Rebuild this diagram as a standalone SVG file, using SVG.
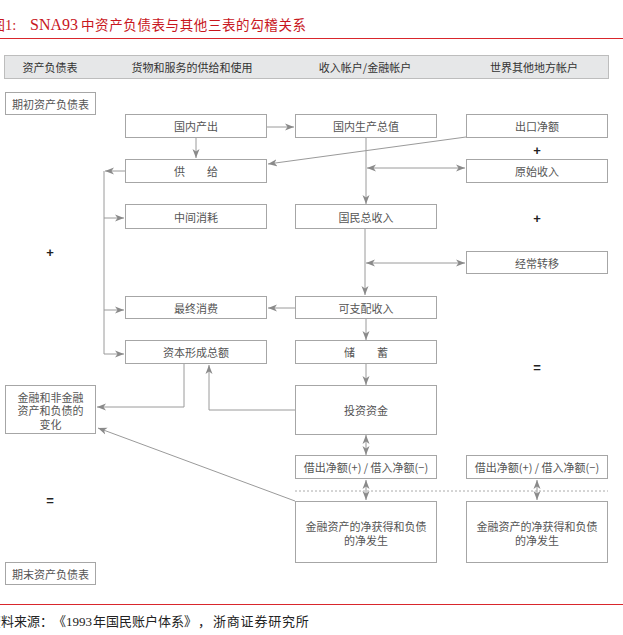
<svg xmlns="http://www.w3.org/2000/svg" width="623" height="635" viewBox="0 0 623 635">
<style>
.box{fill:#fff;stroke:#a6a6a6;stroke-width:1}
.t{font-family:"Noto Sans CJK SC","Liberation Sans",sans-serif;font-size:11px;fill:#555;text-anchor:middle;dominant-baseline:central}
.h{font-family:"Noto Sans CJK SC","Liberation Sans",sans-serif;font-size:11px;fill:#333;text-anchor:middle;dominant-baseline:central}
.sym{font-family:"Liberation Sans",sans-serif;font-size:13px;fill:#222;text-anchor:middle;dominant-baseline:central;font-weight:bold}
.ln{fill:none;stroke:#9a9a9a;stroke-width:1}
.ar{marker-end:url(#a)}
.ab{marker-start:url(#b);marker-end:url(#a)}
.cj{font-family:"Noto Sans CJK SC",sans-serif}
</style>
<defs>
<marker id="a" viewBox="0 0 10 8" refX="9" refY="4" markerWidth="10" markerHeight="8" markerUnits="userSpaceOnUse" orient="auto"><path d="M0,0.5 L9,4 L0,7.5 L2.5,4 z" fill="#8a8a8a"/></marker>
<marker id="b" viewBox="0 0 10 8" refX="1" refY="4" markerWidth="10" markerHeight="8" markerUnits="userSpaceOnUse" orient="auto"><path d="M10,0.5 L1,4 L10,7.5 L7.5,4 z" fill="#8a8a8a"/></marker>
</defs>
<rect width="623" height="635" fill="#fff"/>
<g id="title">
<text y="30" font-family="Liberation Serif,Noto Sans CJK SC,serif" font-size="14.5" fill="#c8161d"><tspan x="-9" class="cj" font-size="14">图</tspan>1:<tspan x="30" font-size="16">SNA93</tspan><tspan x="81" class="cj" font-size="13.5" letter-spacing="0.6">中资产负债表与其他三表的勾稽关系</tspan></text>
<line x1="0" y1="38.5" x2="623" y2="38.5" stroke="#d9262c" stroke-width="1.2"/>
</g>
<g id="header">
<rect x="4.5" y="55.5" width="604" height="23" fill="#e6e7e8" stroke="#bdbdbd"/>
<text class="h" x="50" y="67">资产负债表</text>
<text class="h" x="192" y="67">货物和服务的供给和使用</text>
<text class="h" x="365" y="67">收入帐户/金融帐户</text>
<text class="h" x="534" y="67">世界其他地方帐户</text>
</g>
<g id="connectors">
<line class="ln ar" x1="267" y1="127" x2="294" y2="127"/>
<line class="ln ar" x1="196" y1="138" x2="196" y2="158"/>
<line class="ln ar" x1="466" y1="137" x2="268" y2="164"/>
<line class="ln ar" x1="125" y1="171" x2="105" y2="171"/>
<polyline class="ln" points="104,171 104,354"/>
<line class="ln ar" x1="104" y1="218" x2="124" y2="218"/>
<line class="ln ar" x1="104" y1="310" x2="124" y2="310"/>
<line class="ln ar" x1="104" y1="354" x2="124" y2="354"/>
<line class="ln ar" x1="366" y1="138" x2="366" y2="204"/>
<line class="ln ab" x1="367" y1="168" x2="465" y2="168"/>
<line class="ln ar" x1="365" y1="229" x2="365" y2="295"/>
<line class="ln ab" x1="366" y1="263" x2="465" y2="263"/>
<line class="ln ar" x1="295" y1="308" x2="268" y2="308"/>
<line class="ln ar" x1="366" y1="319" x2="366" y2="340"/>
<line class="ln ar" x1="366" y1="364" x2="366" y2="385"/>
<polyline class="ln ar" points="184,364 184,407 97,407"/>
<polyline class="ln ar" points="295,410 209,410 209,365"/>
<line class="ln ar" x1="295" y1="501" x2="98" y2="428"/>
<line class="ln ab" x1="366" y1="435" x2="366" y2="455"/>
<line class="ln ab" x1="366" y1="480" x2="366" y2="500"/>
<line class="ln ab" x1="537" y1="480" x2="537" y2="500"/>
<line x1="295" y1="491" x2="608" y2="491" stroke="#aaa" stroke-width="1" stroke-dasharray="2,2"/>
</g>
<g id="n_qichu"><rect class="box" x="5.5" y="92.5" width="90" height="22"/><text class="t" x="50.5" y="103.5">期初资产负债表</text></g>
<g id="n_guoneichanchu"><rect class="box" x="125.5" y="114.5" width="141" height="23"/><text class="t" x="196" y="126">国内产出</text></g>
<g id="n_gdp"><rect class="box" x="295.5" y="114.5" width="141" height="23"/><text class="t" x="366" y="126">国内生产总值</text></g>
<g id="n_chukou"><rect class="box" x="466.5" y="114.5" width="141" height="23"/><text class="t" x="537" y="126">出口净额</text></g>
<g id="n_gongji"><rect class="box" x="125.5" y="159.5" width="141" height="23"/><text class="t" x="196" y="171">供　　给</text></g>
<g id="n_yuanshi"><rect class="box" x="466.5" y="159.5" width="141" height="23"/><text class="t" x="537" y="171">原始收入</text></g>
<g id="n_zhongjian"><rect class="box" x="125.5" y="204.5" width="141" height="24"/><text class="t" x="196" y="216.5">中间消耗</text></g>
<g id="n_gni"><rect class="box" x="295.5" y="204.5" width="141" height="24"/><text class="t" x="366" y="216.5">国民总收入</text></g>
<g id="n_jingchang"><rect class="box" x="466.5" y="251.5" width="141" height="22"/><text class="t" x="537" y="262.5">经常转移</text></g>
<g id="n_zuizhong"><rect class="box" x="125.5" y="296.5" width="141" height="22"/><text class="t" x="196" y="307.5">最终消费</text></g>
<g id="n_kezhipei"><rect class="box" x="295.5" y="296.5" width="141" height="22"/><text class="t" x="366" y="307.5">可支配收入</text></g>
<g id="n_ziben"><rect class="box" x="125.5" y="340.5" width="141" height="23"/><text class="t" x="196" y="352">资本形成总额</text></g>
<g id="n_chuxu"><rect class="box" x="295.5" y="340.5" width="141" height="23"/><text class="t" x="366" y="352">储　　蓄</text></g>
<g id="n_jinrong"><rect class="box" x="5.5" y="385.5" width="90" height="48"/><text class="t" x="50.5" y="396.5">金融和非金融</text><text class="t" x="50.5" y="410">资产和负债的</text><text class="t" x="50.5" y="423.5">变化</text></g>
<g id="n_touzi"><rect class="box" x="295.5" y="385.5" width="141" height="49"/><text class="t" x="366" y="410">投资资金</text></g>
<g id="n_jiechu1"><rect class="box" x="295.5" y="455.5" width="141" height="23"/><text class="t" x="366" y="467">借出净额(+) / 借入净额(−)</text></g>
<g id="n_jiechu2"><rect class="box" x="466.5" y="455.5" width="141" height="23"/><text class="t" x="537" y="467">借出净额(+) / 借入净额(−)</text></g>
<g id="n_jinzc1"><rect class="box" x="295.5" y="501.5" width="141" height="61"/><text class="t" x="366" y="525.5">金融资产的净获得和负债</text><text class="t" x="366" y="539.5">的净发生</text></g>
<g id="n_jinzc2"><rect class="box" x="466.5" y="501.5" width="141" height="61"/><text class="t" x="537" y="525.5">金融资产的净获得和负债</text><text class="t" x="537" y="539.5">的净发生</text></g>
<g id="n_qimo"><rect class="box" x="5.5" y="562.5" width="90" height="22"/><text class="t" x="50.5" y="573.5">期末资产负债表</text></g>
<g id="symbols">
<text class="sym" x="537" y="150">+</text>
<text class="sym" x="537" y="218">+</text>
<text class="sym" x="50" y="252">+</text>
<text class="sym" x="537" y="367">=</text>
<text class="sym" x="50" y="500">=</text>
</g>
<g id="footer">
<line x1="0" y1="604.5" x2="623" y2="604.5" stroke="#d9262c" stroke-width="1.2"/>
<text y="626" font-family="Liberation Serif,Noto Sans CJK SC,serif" font-size="13" fill="#222"><tspan x="-12" class="cj">资料来源：</tspan><tspan x="53" class="cj">《</tspan><tspan x="66">1993</tspan><tspan x="93" class="cj">年国民账户体系</tspan><tspan x="184" class="cj">》</tspan><tspan x="198" class="cj">，</tspan><tspan x="213" class="cj" letter-spacing="0.8">浙商证券研究所</tspan></text>
</g>
</svg>
